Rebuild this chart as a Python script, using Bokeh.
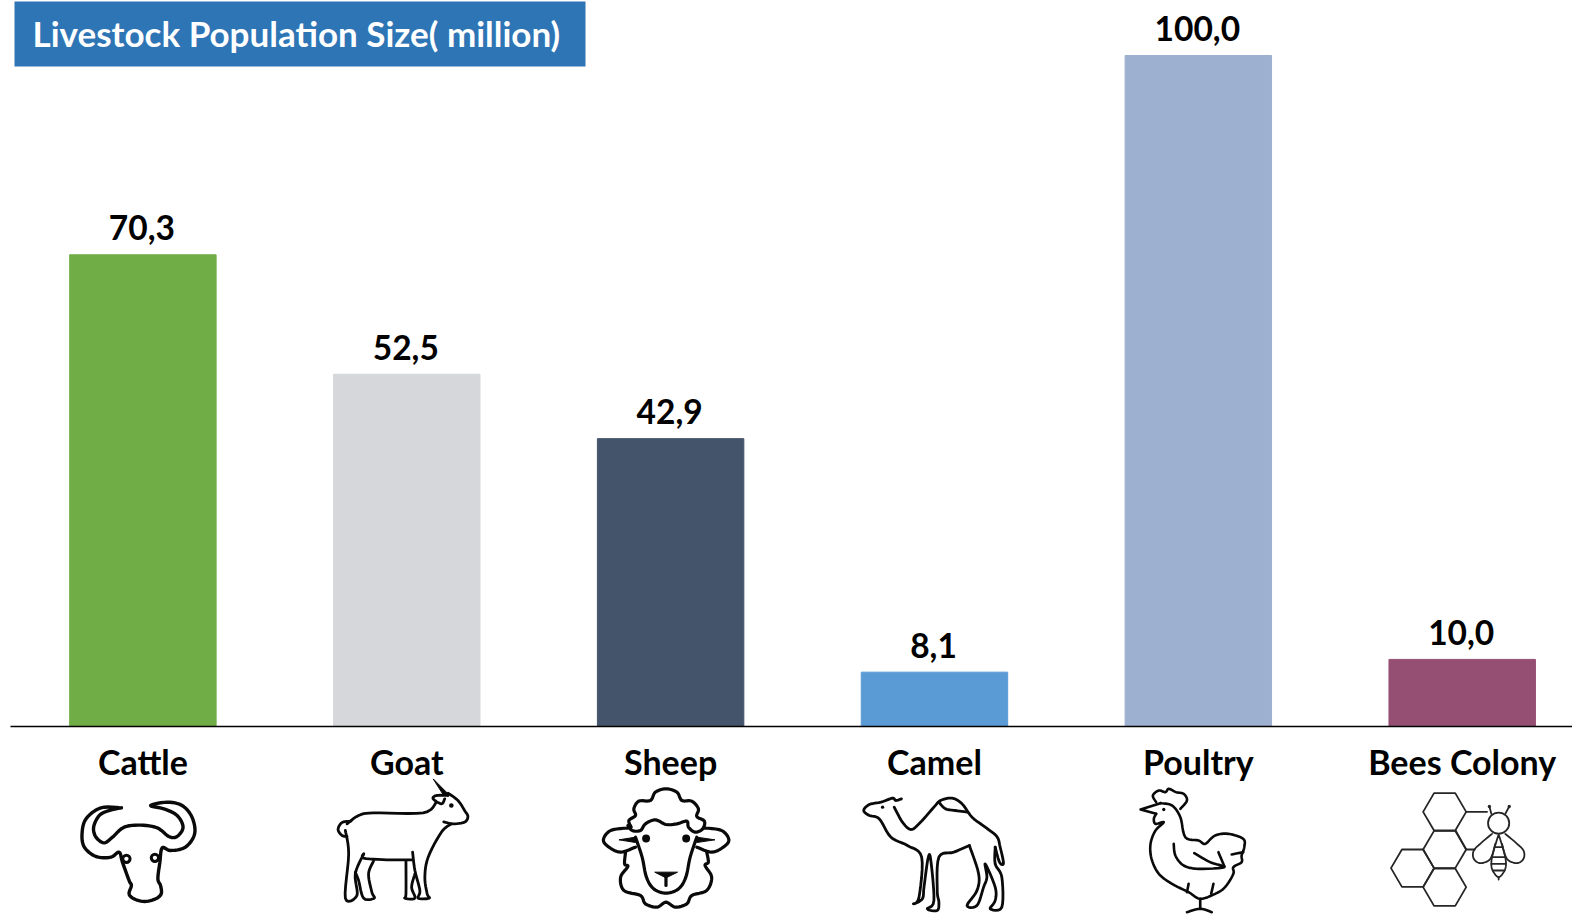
from bokeh.plotting import figure
from bokeh.layouts import column
from bokeh.models import ColumnDataSource, FixedTicker, BoxAnnotation, Range1d
from bokeh.core.properties import value
from bokeh.embed import file_html
from bokeh.resources import INLINE

categories = ["Cattle", "Goat", "Sheep", "Camel", "Poultry", "Bees Colony"]
population = [70.3, 52.5, 42.9, 8.1, 100.0, 10.0]
bar_colors = ["#70AD47", "#D5D7DA", "#44546A", "#5B9BD5", "#9DB0CF", "#954F72"]
title_text = "Livestock Population Size( million)"

FONT = "Lato"
W, H = 1572, 914
TOP_H = 790
ICON_TOP = 778
FRAME_L, BASE_Y = 10, 726
UNIT_X, UNIT_Y = 263.86, 6.71
C0 = 142.4

def dx(px):
    return (px - C0) / UNIT_X

def dy(py):
    return (BASE_Y - py) / UNIT_Y

xs = list(range(len(categories)))
labels = [f"{v:.1f}".replace(".", ",") for v in population]
src = ColumnDataSource(dict(x=xs, top=population, color=bar_colors, label=labels))

p = figure(width=W, height=TOP_H, output_backend="svg", toolbar_location=None,
           x_range=Range1d(dx(FRAME_L), dx(W)), y_range=Range1d(0, dy(0)),
           min_border_left=FRAME_L, min_border_right=0, min_border_top=0,
           min_border_bottom=TOP_H - BASE_Y, outline_line_color=None,
           background_fill_color="white", border_fill_color="white")
p.vbar(x="x", top="top", bottom=0, width=0.555, color="color", source=src)
p.text(x="x", y="top", text="label", source=src, y_offset=-27, x_offset=-1,
       text_align="center", text_baseline="middle", text_color="black",
       text_font=value(FONT), text_font_style="bold", text_font_size="33.5px")

p.add_layout(BoxAnnotation(left=dx(14), right=dx(585), top=dy(1), bottom=dy(66),
                           fill_color="#2E75B6", fill_alpha=1, line_color=None, level="underlay"))
p.text(x=[dx(32)], y=[dy(32)], text=[title_text], text_align="left", text_baseline="middle",
       text_color="white", text_font=value(FONT), text_font_style="bold", text_font_size="35px")

p.grid.visible = False
p.yaxis.visible = False
ax = p.xaxis[0]
ax.ticker = FixedTicker(ticks=xs)
ax.major_label_overrides = {i: c for i, c in enumerate(categories)}
ax.major_tick_line_color = None
ax.minor_tick_line_color = None
ax.axis_line_color = "black"
ax.axis_line_width = 1.6
ax.major_label_standoff = 8
ax.major_label_text_font = FONT
ax.major_label_text_font_style = "bold"
ax.major_label_text_font_size = "34px"
ax.major_label_text_color = "black"

# --- pictograms (page-pixel coordinates, taken from 3x crops) ---
q = figure(width=W, height=H - ICON_TOP, output_backend="svg", toolbar_location=None,
           x_range=Range1d(0, W), y_range=Range1d(H, ICON_TOP),
           min_border=0, outline_line_color=None, x_axis_location=None, y_axis_location=None,
           background_fill_color=None, border_fill_color=None,
           margin=(ICON_TOP - TOP_H, 0, 0, 0))
q.grid.visible = False

def smooth(pts, n=6):
    out = []
    m = len(pts)
    for i in range(m - 1):
        p0 = pts[max(i - 1, 0)]; p1 = pts[i]; p2 = pts[i + 1]; p3 = pts[min(i + 2, m - 1)]
        for k in range(n):
            t = k / n
            f = lambda a, b, c, d: 0.5 * (2 * b + (c - a) * t + (2 * a - 5 * b + 4 * c - d) * t * t + (3 * b - a - 3 * c + d) * t ** 3)
            out.append((f(p0[0], p1[0], p2[0], p3[0]), f(p0[1], p1[1], p2[1], p3[1])))
    out.append(pts[-1])
    return out

def draw(ox, paths, width=3.0, color="#0a0a0a", do_smooth=True):
    for pts in paths:
        s = smooth(pts) if do_smooth else pts
        q.line([ox + a / 3 for a, _ in s], [730 + b / 3 for _, b in s], line_color=color,
               line_width=width, line_join="round", line_cap="round")

def fill(ox, polys, color="#0a0a0a"):
    for pts in polys:
        q.patch([ox + a / 3 for a, _ in pts], [730 + b / 3 for _, b in pts], fill_color=color, line_color=color, line_width=1)

def ring(ox, cx, cy, r, width=3.0, color="#0a0a0a"):
    q.circle([ox + cx / 3], [730 + cy / 3], radius=r / 3, fill_color=None, line_color=color, line_width=width)

def dot(ox, cx, cy, r, color="#0a0a0a"):
    q.circle([ox + cx / 3], [730 + cy / 3], radius=r / 3, fill_color=color, line_color=None)

# Cattle
OX = -9
draw(OX, [[(362,232),(300,232),(255,265),(243,310),(250,350),(285,378),(330,380),(355,365),(365,395),(385,450),
          (392,465),(385,490),(400,505),(432,513),(465,505),(482,490),(480,465),(472,445),(478,395),(485,352),
          (510,360),(555,350),(583,310),(575,260),(545,225),(500,215),(450,225),(490,235),(530,255),(548,290),
          (530,318),(505,318),(470,292),(420,284),(370,290),(335,320),(310,337),(285,320),(278,290),(295,255),
          (325,240),(362,232)]], width=3.4)
ring(OX, 377, 385, 11); ring(OX, 463, 382, 11)

# Goat
OX = -8
draw(OX, [[(1040,280),(1075,255),(1120,247),(1270,247),(1310,215)],
         [(1345,188),(1375,210),(1395,240),(1405,258),(1395,275),(1360,280),(1332,274)],
         [(1355,280),(1325,305),(1285,380),(1275,440),(1282,490),(1288,503),(1255,503),(1260,480),(1245,420),(1238,365)],
         [(1238,388),(1160,388),(1090,383),(1090,372),(1065,430),(1070,495),(1035,503),(1045,370),(1035,300)],
         [(1120,392),(1105,430),(1115,485),(1122,503),(1090,503),(1075,450),(1065,425)],
         [(1218,392),(1218,490),(1215,503),(1245,503),(1235,470),(1245,430)],
         [(1345,195),(1310,195),(1300,205),(1325,220),(1335,205)],
         [(1052,272),(1025,276),(1013,297),(1025,315),(1040,318)]], width=2.8)
fill(OX, [[(1300,145),(1345,190),(1330,192)]])
dot(OX, 1355, 225, 7)

# Sheep
OX = 514
draw(OX, [[(332,290),(325,270),(345,255),(340,235),(355,212),(390,210),(405,185),(437,175),(470,185),(485,210),
            (515,212),(535,235),(530,258),(553,272),(548,295),(525,305),(505,290),(500,272),(470,280),(437,282),
            (405,268),(375,280),(360,300),(335,300),(322,285)],
           [(345,320),(365,380),(378,440),(400,475),(437,488),(475,475),(497,440),(510,380),(530,320)],
           [(345,350),(300,365),(265,350),(248,328),(270,300),(325,292)],
           [(530,350),(575,365),(610,350),(627,328),(605,300),(550,292)],
           [(315,365),(312,400),(322,408),(300,440),(310,480),(360,495),(375,520),(410,530),(437,515),(465,530),
            (500,520),(515,495),(560,480),(575,440),(555,405),(565,395),(560,365)],
           [(437,440),(437,465)]], width=3.2)
fill(OX, [[(295,328),(345,320),(345,336)], [(585,328),(530,320),(530,336)], [(403,425),(472,425),(437,442)]])
dot(OX, 377, 324, 12); dot(OX, 498, 324, 12)

# Camel
OX = 516
draw(OX, [[(1142,205),(1125,210),(1115,203),(1080,215),(1045,222),(1028,240),(1045,255),(1075,265),(1110,320),
            (1160,345),(1203,380),(1195,500),(1178,520),(1205,505),(1210,470),(1222,385),(1230,385),(1240,510),
            (1220,535),(1250,540),(1255,515),(1250,480),(1255,380),(1300,365),(1347,345)],
           [(1120,230),(1145,275),(1170,297),(1195,280),(1240,230),(1260,210),(1295,203),(1325,220),(1355,260),
            (1395,290),(1430,318),(1440,350),(1450,398),(1438,395),(1425,350)],
           [(1347,345),(1375,430),(1370,480),(1340,525),(1370,525),(1390,470),(1400,440),(1395,400),(1425,470),
            (1425,510),(1410,535),(1445,530),(1445,440),(1425,400),(1425,350)],
           [(1255,215),(1275,235),(1305,240),(1340,245)]], width=2.8)
dot(OX, 1085, 230, 5)

# Poultry
OX = 1049
draw(OX, [[(312,215),(302,195),(320,180),(340,185),(350,175),(372,185),(395,190),(405,210),(385,235)],
            [(325,218),(360,225),(385,260),(400,320),(440,330),(460,340),(490,315),(530,310),(575,325),(578,350),
             (570,375),(570,395),(545,410),(545,430),(520,470),(490,490),(445,505),(410,485),(360,460),(320,430),
             (298,385),(295,340),(310,300),(335,275),(310,280),(305,265),(312,250)],
            [(365,340),(370,375),(395,405),(440,415),(518,410),(475,395),(427,368)],
            [(500,365),(518,408)], [(575,365),(540,372)], [(410,460),(405,485)], [(485,460),(478,490)],
            [(445,505),(445,530)], [(405,545),(445,535),(480,545)]], width=2.6)
draw(OX, [[(325,218),(265,237),(312,250)]], width=2.6, do_smooth=False)
dot(OX, 335, 237, 5)

# Bees colony
OX = 1051
HEX = "#262626"
hex_cells = [(1177, 244), (1177, 357), (1080, 413), (1177, 470)]
for cx, cy in hex_cells:
    draw(OX, [[(cx-65,cy),(cx-32,cy-56),(cx+32,cy-56),(cx+65,cy),(cx+32,cy+56),(cx-32,cy+56),(cx-65,cy)]],
         width=1.8, color=HEX, do_smooth=False)
draw(OX, [[(1242,244),(1305,244)], [(1210,300),(1242,357),(1268,357)], [(1318,250),(1312,228)], [(1360,250),(1372,228)],
            [(1328,350),(1352,350)], [(1322,380),(1358,380)], [(1318,400),(1362,400)], [(1322,420),(1358,420)],
            [(1340,440),(1340,447)]], width=1.8, color=HEX, do_smooth=False)
draw(OX, [[(1320,310),(1290,335),(1265,360),(1265,385),(1285,398),(1315,385),(1330,340)],
            [(1360,310),(1390,335),(1415,360),(1415,385),(1395,398),(1365,385),(1350,340)],
            [(1340,312),(1325,360),(1318,395),(1322,420),(1340,440),(1358,420),(1362,395),(1355,360),(1340,312)]],
     width=1.8, color=HEX)
ring(OX, 1340, 278, 32, width=1.8, color=HEX)
dot(OX, 1312, 228, 5, HEX); dot(OX, 1372, 228, 5, HEX)

layout = column(p, q, spacing=0)
open("out.html", "w").write(file_html(layout, INLINE))
